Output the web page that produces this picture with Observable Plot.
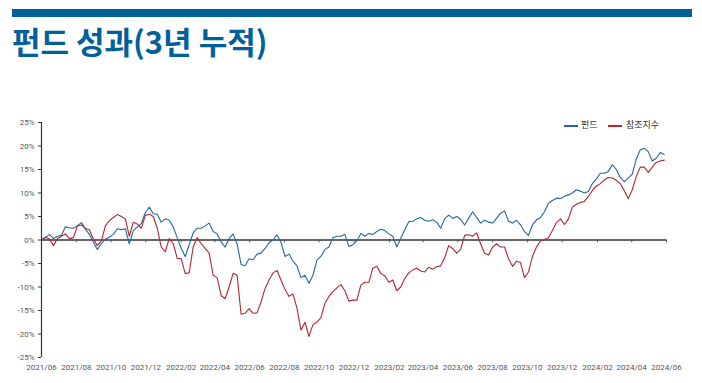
<!DOCTYPE html>
<html><head><meta charset="utf-8">
<script src="https://cdn.jsdelivr.net/npm/d3@7"></script>
<script src="https://cdn.jsdelivr.net/npm/@observablehq/plot@0.6"></script>
<style>
body{margin:0;width:702px;height:383px;position:relative;overflow:hidden;background:#fff;font-family:"Noto Sans CJK KR","Noto Sans",sans-serif}
#bar{position:absolute;left:12px;top:9px;width:680px;height:8px;background:#00609a}
#title{position:absolute;left:12px;top:25px;font-size:31px;line-height:31px;font-weight:700;color:#00609a;letter-spacing:0px;white-space:nowrap}
#chart{position:absolute;left:0;top:0}
.lg-line{position:absolute;height:2px;top:125px;width:14px}
.lg-text{position:absolute;top:119px;font-size:9px;line-height:12px;color:#333;white-space:nowrap}
</style></head>
<body>
<div id="bar"></div>
<div id="title">펀드 성과(3년 누적)</div>
<div id="chart"></div>
<div id="legend"></div>
<script>
const startDate = "2021-06-01";
const stepDays = 7;
const seriesNames = ["펀드", "참조지수"];
const seriesColors = ["#23679f", "#b3262c"];
const fund = [
0, 0.5, 1.2, 0.3, 0.8, 1.0, 2.8, 2.6, 2.5, 3.0,
3.7, 2.3, 1.2, -0.5, -2.0, -0.8, 0.2, 0.6, 1.2, 2.4,
2.2, 2.4, -0.8, 2.0, 2.8, 3.5, 5.8, 7.0, 5.6, 5.5,
3.8, 4.5, 4.2, 2.8, 0.5, -1.8, -3.5, -1.0, 1.5, 2.5,
2.5, 3.0, 3.6, 1.8, 1.3, -0.4, -1.5, 0.3, 1.3, -0.8,
-5.2, -5.5, -4.0, -4.2, -3.0, -2.8, -1.8, -0.6, 0.0, 1.1,
-0.5, -3.5, -3.0, -4.5, -5.5, -8.0, -7.5, -9.2, -7.5, -4.3,
-3.5, -2.0, -1.5, 0.5, 0.8, 0.8, 1.2, -1.4, -1.0, -0.2,
1.4, 0.8, 1.4, 1.2, 1.8, 2.3, 2.0, 1.3, 0.8, -1.5,
0.3, 2.2, 3.9, 4.0, 4.5, 4.8, 4.2, 4.0, 4.3, 3.8,
2.5, 4.5, 5.3, 4.6, 5.0, 4.4, 3.2, 4.6, 6.0, 4.8,
3.6, 4.2, 3.8, 3.6, 4.6, 5.7, 6.2, 4.0, 3.6, 4.2,
3.2, 1.8, 1.0, 3.2, 4.3, 4.8, 6.0, 7.8, 8.4, 8.9,
8.8, 9.3, 9.6, 10.0, 10.7, 10.4, 10.0, 10.3, 12.0, 13.0,
14.2, 14.2, 14.6, 16.0, 15.0, 13.3, 12.4, 13.2, 14.0, 17.2,
19.2, 19.5, 18.8, 16.8, 17.4, 18.6, 18.2
];
const bench = [
0, 0.6, 0.2, -1.2, 0.3, 0.8, 1.3, 0.3, 0.5, 3.0,
3.2, 2.5, 2.2, 0.2, -1.2, -0.2, 3.0, 4.1, 4.8, 5.4,
5.0, 4.5, 0.8, 3.8, 3.4, 2.5, 5.2, 5.5, 5.0, 2.5,
-1.5, -2.5, 0.3, -0.8, -3.9, -4.0, -7.1, -7.0, -1.5, 0.5,
-0.8, -1.8, -2.8, -7.5, -8.0, -11.8, -12.5, -10.0, -7.1, -7.5,
-15.8, -15.6, -14.6, -15.6, -15.5, -13.2, -10.3, -8.5, -7.0, -6.5,
-8.5, -10.5, -12.0, -11.5, -14.5, -19.2, -17.5, -20.5, -18.0, -17.5,
-16.5, -13.5, -12.0, -11.0, -10.2, -9.5, -10.8, -13.0, -12.8, -12.8,
-9.6, -9.0, -9.0, -6.0, -5.6, -7.1, -7.6, -9.0, -8.5, -10.8,
-10.0, -8.2, -7.0, -6.4, -6.0, -6.6, -6.8, -5.8, -6.2, -5.7,
-5.5, -3.8, -1.2, -1.8, -2.8, -2.0, 1.0, 1.1, 0.8, 1.5,
-0.8, -2.8, -3.2, -1.5, -0.8, -1.5, -1.5, -4.0, -5.6, -4.5,
-4.8, -8.0, -6.8, -3.5, -1.5, -0.2, 0.1, 0.5, 2.0, 3.7,
4.5, 3.3, 4.5, 7.0, 7.6, 8.0, 8.2, 9.3, 10.5, 11.5,
12.0, 12.8, 13.3, 13.2, 12.7, 12.0, 10.5, 8.8, 10.7, 13.5,
15.5, 15.5, 14.4, 15.5, 16.5, 16.8, 17.0
];
const xTickLabels = ["2021/06","2021/08","2021/10","2021/12","2022/02","2022/04","2022/06","2022/08","2022/10","2022/12","2023/02","2023/04","2023/06","2023/08","2023/10","2023/12","2024/02","2024/04","2024/06"];
const yTicks = [-25, -20, -15, -10, -5, 0, 5, 10, 15, 20, 25];

const t0 = new Date(startDate + "T00:00:00Z");
const dates = fund.map((_, i) => d3.utcDay.offset(t0, i * stepDays));
const rows = [];
fund.forEach((v, i) => rows.push({date: dates[i], value: v, series: seriesNames[0]}));
bench.forEach((v, i) => rows.push({date: dates[i], value: v, series: seriesNames[1]}));
const parseTick = d3.utcParse("%Y/%m");
const tickDates = xTickLabels.map(parseTick);
const fmtTick = d3.utcFormat("%Y/%m");

const chart = Plot.plot({
  width: 702, height: 383,
  marginTop: 122, marginBottom: 26, marginLeft: 41, marginRight: 36,
  x: {type: "utc", domain: [tickDates[0], tickDates[tickDates.length - 1]]},
  y: {domain: [yTicks[0], yTicks[yTicks.length - 1]]},
  color: {domain: seriesNames, range: seriesColors},
  style: {fontFamily: "Roboto, 'Noto Sans', sans-serif", fontSize: "8px", color: "#555", background: "transparent"},
  marks: [
    Plot.ruleY([0], {stroke: "#666", strokeWidth: 1.8}),
    Plot.ruleX(tickDates, {y1: 0, y2: -0.6, stroke: "#555", strokeWidth: 1}),
    Plot.line(rows, {x: "date", y: "value", z: "series", stroke: "series", strokeWidth: 1.1}),
    Plot.axisY({ticks: yTicks, tickFormat: d => d + "%", tickSize: 3, tickPadding: 4, stroke: "#333", label: null}),
    Plot.ruleX([tickDates[0]], {y1: yTicks[0], y2: yTicks[yTicks.length - 1], stroke: "#333", strokeWidth: 1.2}),
    Plot.axisX({ticks: tickDates, tickFormat: fmtTick, tickSize: 0, tickPadding: 7, label: null})
  ]
});
document.getElementById("chart").appendChild(chart);

const legend = document.getElementById("legend");
const lgPos = [{line: 564, text: 581}, {line: 608, text: 626}];
seriesNames.forEach((name, i) => {
  const l = document.createElement("div");
  l.className = "lg-line";
  l.style.left = lgPos[i].line + "px";
  l.style.background = seriesColors[i];
  legend.appendChild(l);
  const t = document.createElement("div");
  t.className = "lg-text";
  t.style.left = lgPos[i].text + "px";
  t.textContent = name;
  legend.appendChild(t);
});
</script>
</body></html>
